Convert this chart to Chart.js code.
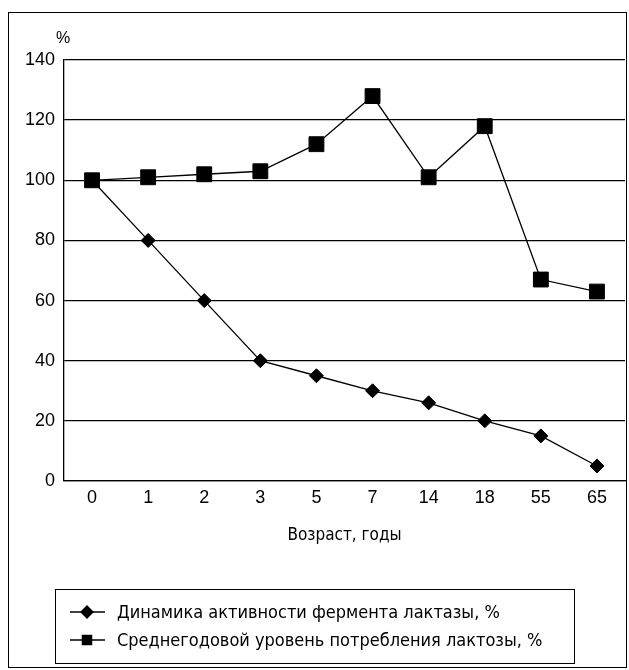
<!DOCTYPE html>
<html lang="ru">

<head>
    <meta charset="UTF-8">
    <title>Лактаза</title>
    <script src="https://cdn.jsdelivr.net/npm/chart.js"></script>
    <style>
        html, body { margin: 0; padding: 0; background: #fff; }
        #wrap { width: 629px; height: 670px; position: relative; }
    </style>
</head>

<body>
    <div id="wrap">
        <canvas id="myChart"></canvas>
    </div>

    <script>
        const ages = ['0', '1', '2', '3', '5', '7', '14', '18', '55', '65'];
        const lactaseActivity = [100, 80, 60, 40, 35, 30, 26, 20, 15, 5];
        const lactoseIntake = [100, 101, 102, 103, 112, 128, 101, 118, 67, 63];
        const yTicks = [0, 20, 40, 60, 80, 100, 120, 140];

        const FONT = "'Liberation Sans Narrow', 'DejaVu Sans Condensed', 'Liberation Sans', sans-serif";
        const TICKFONT = "'Liberation Sans', Arial, sans-serif";

        // frame, "%" label and boxed legend
        const decor = {
            id: 'decor',
            afterDraw: (chart) => {
                const ctx = chart.ctx;
                ctx.save();
                ctx.strokeStyle = '#000';
                ctx.lineWidth = 1;
                ctx.strokeRect(8.5, 12.5, 618, 655);

                ctx.fillStyle = '#000';
                ctx.font = '16px ' + TICKFONT;
                ctx.textAlign = 'center';
                ctx.textBaseline = 'middle';
                ctx.fillText('%', chart.chartArea.left - 1, 39);

                // legend
                ctx.strokeRect(55.5, 589.5, 519, 74);
                ctx.font = '18px ' + FONT;
                ctx.textAlign = 'left';
                chart.data.datasets.forEach((ds, i) => {
                    const y = 612 + i * 28;
                    ctx.beginPath();
                    ctx.moveTo(70, y);
                    ctx.lineTo(105, y);
                    ctx.lineWidth = 1.3;
                    ctx.stroke();
                    ctx.fillStyle = '#000';
                    Chart.helpers.drawPoint(ctx, {
                        pointStyle: ds.pointStyle,
                        radius: i === 0 ? 6 : 6.5,
                        borderWidth: 1
                    }, 87, y);
                    ctx.fill();
                    ctx.fillText(ds.label, 117, y + 1);
                });
                ctx.restore();
            }
        };

        const config = {
            type: 'line',
            data: {
                labels: ages,
                datasets: [{
                    label: 'Динамика активности фермента лактазы, %',
                    data: lactaseActivity,
                    borderColor: '#000',
                    backgroundColor: '#000',
                    borderWidth: 1.3,
                    pointStyle: 'rectRot',
                    pointRadius: 7,
                    pointBorderWidth: 1
                }, {
                    label: 'Среднегодовой уровень потребления лактозы, %',
                    data: lactoseIntake,
                    borderColor: '#000',
                    backgroundColor: '#000',
                    borderWidth: 1.3,
                    pointStyle: 'rect',
                    pointRadius: 10.5,
                    pointBorderWidth: 1
                }]
            },
            options: {
                responsive: true,
                maintainAspectRatio: false,
                animation: false,
                layout: {
                    autoPadding: false,
                    padding: { top: 60, left: 8, right: 4, bottom: 120 }
                },
                plugins: {
                    legend: { display: false },
                    tooltip: { enabled: false }
                },
                scales: {
                    x: {
                        offset: true,
                        afterFit: (scale) => {
                            scale.height = 69;
                            scale.paddingLeft = 0;
                            scale.paddingRight = 0;
                        },
                        grid: { display: false, drawTicks: false },
                        border: { color: '#000', width: 1.3 },
                        ticks: {
                            color: '#000',
                            padding: 6,
                            maxRotation: 0,
                            font: { family: TICKFONT, size: 18 }
                        },
                        title: {
                            display: true,
                            text: 'Возраст, годы',
                            color: '#000',
                            font: { family: FONT, size: 17 }
                        }
                    },
                    y: {
                        min: 0,
                        max: 140,
                        afterFit: (scale) => { scale.width = 56; },
                        afterBuildTicks: (scale) => {
                            scale.ticks = yTicks.map(v => ({ value: v }));
                        },
                        grid: { color: '#000', lineWidth: 1.3, drawTicks: false },
                        border: { color: '#000', width: 1.3 },
                        ticks: {
                            color: '#000',
                            padding: 9,
                            font: { family: TICKFONT, size: 18 }
                        }
                    }
                }
            },
            plugins: [decor]
        };

        var chart = new Chart(document.getElementById('myChart'), config);
    </script>
</body>

</html>
